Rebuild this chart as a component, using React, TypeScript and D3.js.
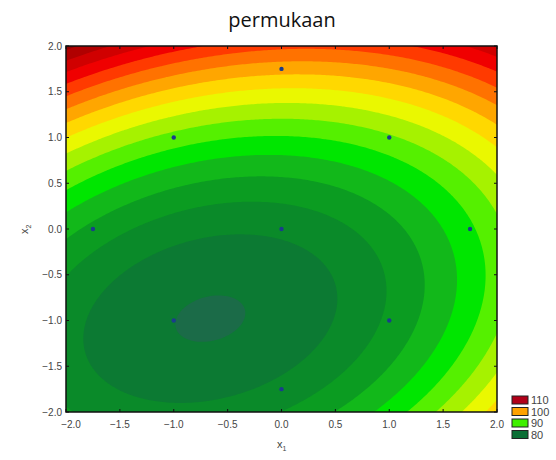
import React, { useEffect, useRef } from "react";
import * as d3 from "d3";

// fitted second order model in coded units: b0, b1, b2, b11, b22, b12
const coef = [84.5, 1.2, 4.63, 1.65, 2.7, -1.0];

// contour levels and the fill of the band above each one (first colour = below first level)
const levels = [82, 84, 86, 88, 90, 92, 94, 96, 98, 100, 102, 104, 106, 108, 110, 112];
const bandColors = [
  "#1b6b48", "#0c7a33", "#0a8a29", "#0b9c21", "#12b81a", "#00e600", "#55f000", "#a6f200",
  "#eaf800", "#ffd800", "#ffa600", "#ff7200", "#ff3a00", "#f00000", "#d00000", "#b00000", "#8e0000",
];

// design points (central composite)
const pointX1 = [-1, 1, -1, 1, 0, -1.75, 1.75, 0, 0];
const pointX2 = [-1, -1, 1, 1, 0, 0, 0, -1.75, 1.75];

const tickValues = [-2, -1.5, -1, -0.5, 0, 0.5, 1, 1.5, 2];

const legendValues = [110, 100, 90, 80];
const legendColors = ["#b00018", "#ffa200", "#40f000", "#0b6e35"];

function Chart() {
  const ref = useRef(null);

  useEffect(() => {
    const svg = d3.select(ref.current);
    svg.selectAll("*").remove();

    const left = 66, right = 497, top = 46, bottom = 412;
    const x = d3.scaleLinear().domain([-2, 2]).range([left, right]);
    const y = d3.scaleLinear().domain([-2, 2]).range([bottom, top]);

    const model = (a, b) =>
      coef[0] + coef[1] * a + coef[2] * b + coef[3] * a * a + coef[4] * b * b + coef[5] * a * b;

    // grid of the surface, row 0 at the top
    const n = 201;
    const step = 4 / (n - 1);
    const values = new Array(n * n);
    for (let j = 0; j < n; j++) {
      for (let i = 0; i < n; i++) {
        values[j * n + i] = model(-2 + i * step, 2 - j * step);
      }
    }

    const proj = d3.geoTransform({
      point: function (cx, cy) {
        this.stream.point(x(-2 + (cx - 0.5) * step), y(2 - (cy - 0.5) * step));
      },
    });
    const path = d3.geoPath(proj);
    const contours = d3.contours().size([n, n]).thresholds(levels)(values);

    svg.append("clipPath").attr("id", "plotclip")
      .append("rect").attr("x", left).attr("y", top).attr("width", right - left).attr("height", bottom - top);

    const g = svg.append("g").attr("clip-path", "url(#plotclip)");
    g.append("rect").attr("x", left).attr("y", top).attr("width", right - left).attr("height", bottom - top)
      .attr("fill", bandColors[0]);
    g.selectAll("path.band").data(contours).join("path")
      .attr("class", "band")
      .attr("d", path)
      .attr("fill", (d, i) => bandColors[i + 1]);

    // design points
    svg.selectAll("circle.pt").data(pointX1).join("circle")
      .attr("class", "pt")
      .attr("cx", (d) => x(d))
      .attr("cy", (d, i) => y(pointX2[i]))
      .attr("r", 2.2)
      .attr("fill", "#1b3c8c");

    // frame and inner ticks
    svg.append("rect").attr("x", left).attr("y", top).attr("width", right - left).attr("height", bottom - top)
      .attr("fill", "none").attr("stroke", "#111").attr("stroke-width", 1.5);
    const tk = svg.append("g").attr("stroke", "#111").attr("stroke-width", 1);
    tickValues.forEach((v) => {
      tk.append("line").attr("x1", x(v)).attr("x2", x(v)).attr("y1", bottom).attr("y2", bottom - 3);
      tk.append("line").attr("x1", x(v)).attr("x2", x(v)).attr("y1", top).attr("y2", top + 3);
      tk.append("line").attr("x1", left).attr("x2", left + 3).attr("y1", y(v)).attr("y2", y(v));
      tk.append("line").attr("x1", right).attr("x2", right - 3).attr("y1", y(v)).attr("y2", y(v));
    });

    const fmt = d3.format(".1f");
    const font = "'Liberation Sans', Arial, sans-serif";
    svg.append("g").selectAll("text").data(tickValues).join("text")
      .attr("x", (d, i) => x(d) + (i === 0 ? 5 : 0))
      .attr("y", 428)
      .attr("text-anchor", "middle")
      .attr("font-family", font).attr("font-size", 10).attr("fill", "#444")
      .text((d) => fmt(d));
    svg.append("g").selectAll("text").data(tickValues).join("text")
      .attr("x", 62)
      .attr("y", (d) => y(d) + 3.5)
      .attr("text-anchor", "end")
      .attr("font-family", font).attr("font-size", 10).attr("fill", "#444")
      .text((d) => fmt(d));

    // axis titles
    const xt = svg.append("text").attr("x", 277).attr("y", 448)
      .attr("font-family", font).attr("font-size", 11).attr("fill", "#444");
    xt.append("tspan").text("x");
    xt.append("tspan").attr("font-size", 7).attr("dy", 3).text("1");
    const yt = svg.append("text").attr("transform", "translate(28,234) rotate(-90)")
      .attr("font-family", font).attr("font-size", 11).attr("fill", "#444");
    yt.append("tspan").text("x");
    yt.append("tspan").attr("font-size", 7).attr("dy", 3).text("2");

    svg.append("text").attr("x", 282).attr("y", 27)
      .attr("text-anchor", "middle")
      .attr("font-family", "'Open Sans', sans-serif").attr("font-size", 20).attr("fill", "#111")
      .text("permukaan");

    // legend
    const lg = svg.append("g");
    legendValues.forEach((v, i) => {
      const cy = 400 + i * 11.5;
      lg.append("rect").attr("x", 512).attr("y", cy - 4).attr("width", 16).attr("height", 8)
        .attr("fill", legendColors[i]).attr("stroke", "#222").attr("stroke-width", 1);
      lg.append("text").attr("x", 531).attr("y", cy + 4)
        .attr("font-family", font).attr("font-size", 11).attr("fill", "#444")
        .text(v);
    });
  }, []);

  return (
    <svg ref={ref} width={556} height={460}
      style={{ position: "absolute", left: 0, top: 0, background: "#fff" }} />
  );
}

export default function App() {
  return <Chart />;
}
